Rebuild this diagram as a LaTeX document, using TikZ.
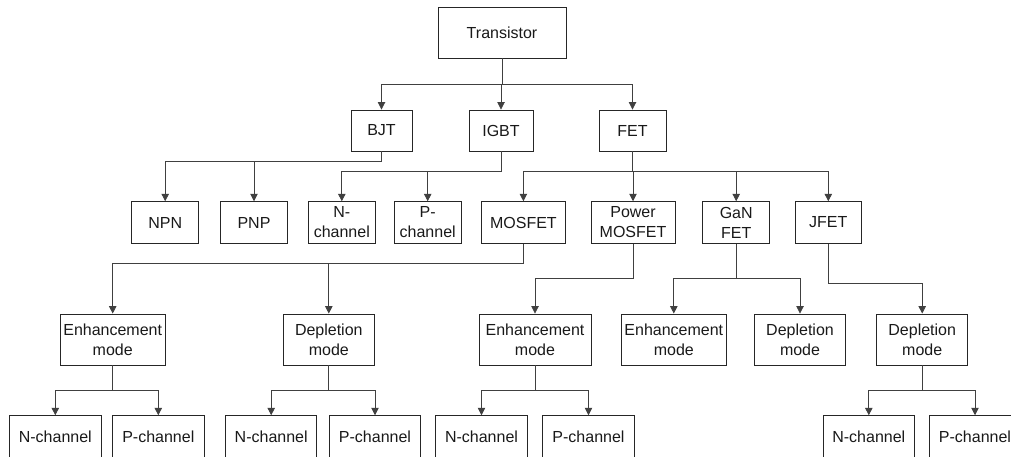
\documentclass[tikz,border=0pt]{standalone}
\usepackage{fontspec}
\setmainfont{Liberation Sans}
\usetikzlibrary{arrows.meta}
\begin{document}
\begin{tikzpicture}[x=1pt,y=-1pt,
  box/.style={draw=black!85, line width=0.9pt, align=center, inner sep=0pt,
    font=\fontsize{16}{20}\selectfont, text=black!90},
  lvlA/.style={box, minimum height=41pt},
  lvlB/.style={box, minimum height=51pt},
  lvlC/.style={box, minimum height=42pt},
  arr/.style={draw=black!75, line width=0.8pt, -{Triangle[width=7.5pt,length=7.5pt]}}]
\useasboundingbox (0,0) rectangle (1011,456);

% root
\node[box, minimum width=128pt, minimum height=51pt] (tr) at (502,32.5) {Transistor};

% families
\node[lvlA, minimum width=61pt] (bjt)  at (381.5,130.5) {BJT};
\node[lvlA, minimum width=64pt] (igbt) at (501,130.5) {IGBT};
\node[lvlA, minimum width=67pt] (fet)  at (632.5,130.5) {FET};

% sub-types
\node[lvlA, minimum width=67pt, minimum height=41.6pt] (npn)  at (165.2,222.5) {NPN};
\node[lvlA, minimum width=66.6pt, minimum height=41.6pt] (pnp) at (254,222.5) {PNP};
\node[lvlA, minimum width=67pt, minimum height=41.6pt] (nchi) at (341.8,222.5) {N-\\channel};
\node[lvlA, minimum width=66.7pt, minimum height=41.6pt] (pchi) at (427.7,222.5) {P-\\channel};
\node[lvlA, minimum width=84.5pt, minimum height=41.6pt] (mos) at (523.4,222.5) {MOSFET};
\node[lvlA, minimum width=84pt, minimum height=41.6pt] (pmos) at (633,222.5) {Power\\MOSFET};
\node[lvlA, minimum width=67pt, minimum height=41.6pt] (gan) at (736.2,222.5) {GaN\\FET};
\node[lvlA, minimum width=66.7pt, minimum height=41.6pt] (jfet) at (828.3,222.5) {JFET};

% operating modes
\node[lvlB, minimum width=104.7pt] (enhA) at (112.7,339.5) {Enhancement\\mode};
\node[lvlB, minimum width=91.7pt]  (depA) at (328.8,339.5) {Depletion\\mode};
\node[lvlB, minimum width=112pt]   (enhB) at (535,339.5) {Enhancement\\mode};
\node[lvlB, minimum width=104.3pt] (enhC) at (673.8,339.5) {Enhancement\\mode};
\node[lvlB, minimum width=91.4pt]  (depB) at (800,339.5) {Depletion\\mode};
\node[lvlB, minimum width=91pt]    (depC) at (922.2,339.5) {Depletion\\mode};

% channel types
\node[lvlC, minimum width=92pt]   (nA) at (55.3,436.7)  {N-channel};
\node[lvlC, minimum width=91.3pt] (pA) at (158.3,436.7) {P-channel};
\node[lvlC, minimum width=91pt]   (nB) at (271.2,436.7) {N-channel};
\node[lvlC, minimum width=91.4pt] (pB) at (375,436.7)   {P-channel};
\node[lvlC, minimum width=91.6pt] (nC) at (481.5,436.7) {N-channel};
\node[lvlC, minimum width=91.6pt] (pC) at (588.5,436.7) {P-channel};
\node[lvlC, minimum width=91pt]   (nD) at (868.8,436.7) {N-channel};
\node[lvlC, minimum width=91.4pt] (pD) at (975,436.7)   {P-channel};

% connectors
\foreach \c in {bjt,igbt,fet}
  \draw[arr] (tr.south) -- ++(0,26) -| (\c.north);
\foreach \c in {npn,pnp}
  \draw[arr] (bjt.south) -- ++(0,10) -| (\c.north);
\foreach \c in {nchi,pchi}
  \draw[arr] (igbt.south) -- ++(0,20) -| (\c.north);
\foreach \c in {mos,pmos,gan,jfet}
  \draw[arr] (fet.south) -- ++(0,20) -| (\c.north);
\foreach \c in {enhA,depA}
  \draw[arr] (mos.south) -- ++(0,20) -| (\c.north);
\draw[arr] (pmos.south) -- ++(0,35) -| (enhB.north);
\foreach \c in {enhC,depB}
  \draw[arr] (gan.south) -- ++(0,35) -| (\c.north);
\draw[arr] (jfet.south) -- ++(0,40) -| (depC.north);
\foreach \c in {nA,pA}
  \draw[arr] (enhA.south) -- ++(0,25) -| (\c.north);
\foreach \c in {nB,pB}
  \draw[arr] (depA.south) -- ++(0,25) -| (\c.north);
\foreach \c in {nC,pC}
  \draw[arr] (enhB.south) -- ++(0,25) -| (\c.north);
\foreach \c in {nD,pD}
  \draw[arr] (depC.south) -- ++(0,25) -| (\c.north);
\end{tikzpicture}
\end{document}
